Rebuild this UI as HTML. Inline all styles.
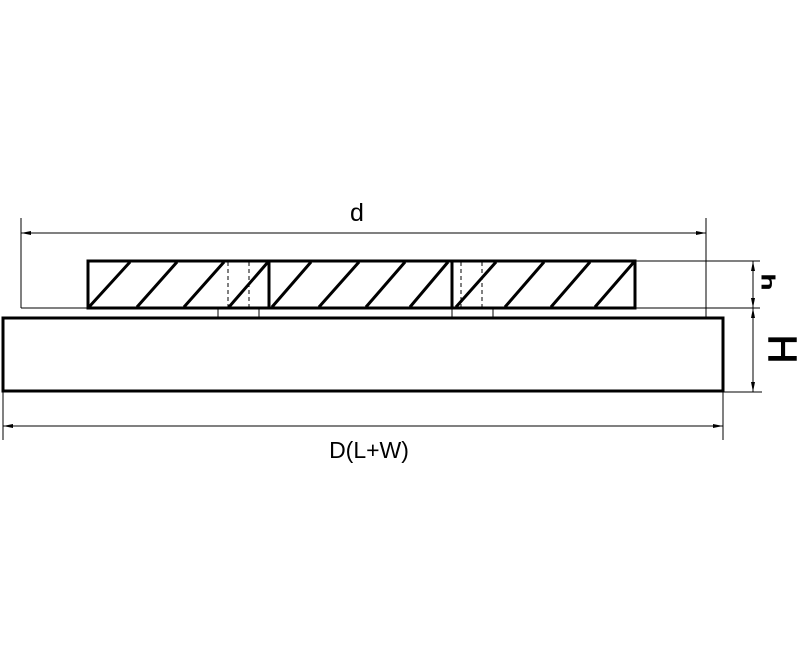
<!DOCTYPE html>
<html><head><meta charset="utf-8"><style>html,body{margin:0;padding:0;background:#fff}svg{display:block}</style></head>
<body>
<svg width="800" height="655" viewBox="0 0 800 655" xmlns="http://www.w3.org/2000/svg">
<defs>
<marker id="a" viewBox="0 0 10 6" refX="10" refY="3" markerWidth="10" markerHeight="6" orient="auto-start-reverse" markerUnits="userSpaceOnUse"><path d="M0,1 L10,3 L0,5 z" fill="#000"/></marker>
</defs>
<g stroke="#000" fill="none" stroke-width="1">
<line x1="21" y1="218" x2="21" y2="308"/>
<line x1="706" y1="218" x2="706" y2="318"/>
<line x1="21" y1="308" x2="88" y2="308"/>
<line x1="635" y1="261" x2="760" y2="261"/>
<line x1="635" y1="308" x2="760" y2="308"/>
<line x1="723" y1="392" x2="762" y2="392"/>
<line x1="3" y1="391" x2="3" y2="440"/>
<line x1="723" y1="391" x2="723" y2="440"/>
<line x1="21" y1="233" x2="706" y2="233" marker-start="url(#a)" marker-end="url(#a)"/>
<line x1="3" y1="426" x2="723" y2="426" marker-start="url(#a)" marker-end="url(#a)"/>
<line x1="753" y1="261" x2="753" y2="308" marker-start="url(#a)" marker-end="url(#a)"/>
<line x1="753" y1="308" x2="753" y2="392" marker-start="url(#a)" marker-end="url(#a)"/>
<rect x="218" y="308" width="41" height="9"/>
<rect x="452" y="308" width="41" height="9"/>
<g stroke-dasharray="4,3">
<line x1="228" y1="262" x2="228" y2="308"/>
<line x1="249" y1="262" x2="249" y2="308"/>
<line x1="461" y1="262" x2="461" y2="308"/>
<line x1="482" y1="262" x2="482" y2="308"/>
</g>
</g>
<g stroke="#000" fill="none" stroke-width="3">
<rect x="88" y="261" width="547" height="47"/>
<line x1="269" y1="261" x2="269" y2="308"/>
<line x1="452" y1="261" x2="452" y2="308"/>
<rect x="3" y="318" width="720" height="73"/>
<line x1="89" y1="307" x2="130" y2="262"/>
<line x1="137" y1="307" x2="177" y2="262"/>
<line x1="184" y1="307" x2="224" y2="262"/>
<line x1="229" y1="307" x2="268" y2="262"/>
<line x1="272" y1="307" x2="311" y2="262"/>
<line x1="319" y1="307" x2="359" y2="262"/>
<line x1="366" y1="307" x2="405" y2="262"/>
<line x1="410" y1="307" x2="448" y2="262"/>
<line x1="456" y1="307" x2="496" y2="262"/>
<line x1="505" y1="307" x2="544" y2="262"/>
<line x1="551" y1="307" x2="590" y2="262"/>
<line x1="595" y1="307" x2="634" y2="262"/>
</g>
<g font-family="Liberation Sans, sans-serif" fill="#000">
<text x="357" y="221" font-size="25" text-anchor="middle">d</text>
<text x="369" y="458" font-size="23" text-anchor="middle">D(L+W)</text>
<text transform="translate(762,282) rotate(90) scale(1.6,1)" font-size="18" text-anchor="middle" stroke="#000" stroke-width="1">h</text>
<text transform="translate(769,349) rotate(90)" font-size="40" text-anchor="middle" stroke="#000" stroke-width="1">H</text>
</g>
</svg>
</body></html>
